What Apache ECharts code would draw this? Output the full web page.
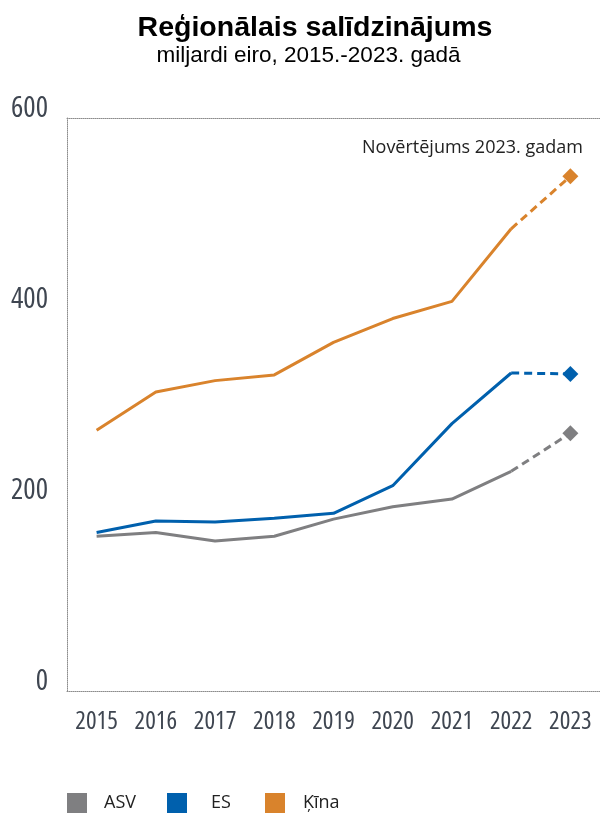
<!DOCTYPE html>
<html>
<head>
<meta charset="utf-8">
<script src="https://cdn.jsdelivr.net/npm/echarts@6/dist/echarts.min.js"></script>
<style>
  html, body { margin: 0; padding: 0; background: #ffffff; }
  #chart { width: 600px; height: 814px; }
</style>
</head>
<body>
<div id="chart"></div>
<script>
// Years on the horizontal axis
const years = ['2015', '2016', '2017', '2018', '2019', '2020', '2021', '2022', '2023'];
// Values in billions of euro; the 2023 value is an estimate
const asv  = [162, 166, 157, 162, 180, 193, 201, 230, 270];
const es   = [166, 178, 177, 181, 186, 215, 280, 333, 332];
const kina = [273, 313, 325, 331, 365, 390, 408, 484, 539];
const seriesNames = ['ASV', 'ES', 'Ķīna'];
const yTicks = [0, 200, 400, 600];

const colors = { 'ASV': '#7f7f81', 'ES': '#0060ad', 'Ķīna': '#d9832c' };
const axisFont = '"Open Sans", sans-serif';
const estimateIndex = years.length - 1;

// Solid part up to the last actual year
function actualPart(values) {
  return values.map((v, i) => (i < estimateIndex ? v : null));
}
// Dashed part linking the last actual year to the estimate
function estimatePart(values) {
  return values.map((v, i) => {
    if (i === estimateIndex - 1) return { value: v, symbol: 'none' };
    if (i === estimateIndex) return { value: v };
    return null;
  });
}

const series = [];
[[seriesNames[0], asv], [seriesNames[1], es], [seriesNames[2], kina]].forEach(([name, values]) => {
  series.push({
    name: name,
    type: 'line',
    data: actualPart(values),
    symbol: 'none',
    lineStyle: { color: colors[name], width: 3 },
    itemStyle: { color: colors[name] },
    emphasis: { disabled: true },
    z: 3
  });
  series.push({
    name: name,
    type: 'line',
    data: estimatePart(values),
    symbol: 'diamond',
    symbolSize: 16,
    showAllSymbol: true,
    lineStyle: { color: colors[name], width: 3, type: [8, 5] },
    itemStyle: { color: colors[name] },
    emphasis: { disabled: true },
    z: 3
  });
});

// One legend block per region so each entry sits on its own column
const legendLefts = [67, 167, 265];
const legendTextGaps = [12, 19, 13];
const legends = seriesNames.map((name, i) => ({
  data: [name],
  left: legendLefts[i],
  top: 793,
  padding: 0,
  icon: 'rect',
  itemWidth: 20,
  itemHeight: 20,
  selectedMode: false,
  textStyle: { fontFamily: '"Open Sans", sans-serif', fontSize: 18, color: '#222222', padding: [0, 0, 0, legendTextGaps[i]] }
}));

const chart = echarts.init(document.getElementById('chart'), null, { renderer: 'canvas' });
chart.setOption({
  animation: false,
  backgroundColor: '#ffffff',
  title: [{
    text: 'Reģionālais salīdzinājums',
    left: 310,
    textAlign: 'center',
    top: 9,
    textStyle: { fontFamily: '"Liberation Sans", Arial, sans-serif', fontWeight: 'bold', fontSize: 28.5, color: '#000000' }
  }, {
    text: 'miljardi eiro, 2015.-2023. gadā',
    left: 303.5,
    textAlign: 'center',
    top: 39,
    textStyle: { fontFamily: '"Liberation Sans", Arial, sans-serif', fontWeight: 'normal', fontSize: 22.5, color: '#000000' }
  }],
  graphic: [{
    type: 'text',
    left: 362,
    top: 139,
    style: {
      text: 'Novērtējums 2023. gadam',
      font: '18px "Open Sans", sans-serif',
      fill: '#222222'
    }
  }],
  legend: legends,
  grid: { left: 67, top: 118, width: 540, height: 573 },
  xAxis: [{
    type: 'category',
    data: years,
    boundaryGap: true,
    axisLine: { show: true, lineStyle: { color: '#8c8c8c', width: 1, type: [1, 1] } },
    axisTick: { show: false },
    axisLabel: { interval: 0, color: '#3f4651', fontFamily: axisFont, fontWeight: 'condensed', fontSize: 25, margin: 18 }
  }, {
    type: 'category',
    data: years,
    position: 'top',
    axisLine: { show: true, lineStyle: { color: '#8c8c8c', width: 1, type: [1, 1] } },
    axisTick: { show: false },
    axisLabel: { show: false }
  }],
  yAxis: {
    type: 'value',
    min: yTicks[0],
    max: yTicks[yTicks.length - 1],
    interval: yTicks[1] - yTicks[0],
    axisLine: { show: true, lineStyle: { color: '#8c8c8c', width: 1, type: [1, 1] } },
    axisTick: { show: false },
    splitLine: { show: false },
    axisLabel: { color: '#3f4651', fontFamily: axisFont, fontWeight: 'condensed', fontSize: 29, margin: 19, verticalAlign: 'bottom', lineHeight: 19 }
  },
  series: series
});
</script>
</body>
</html>
